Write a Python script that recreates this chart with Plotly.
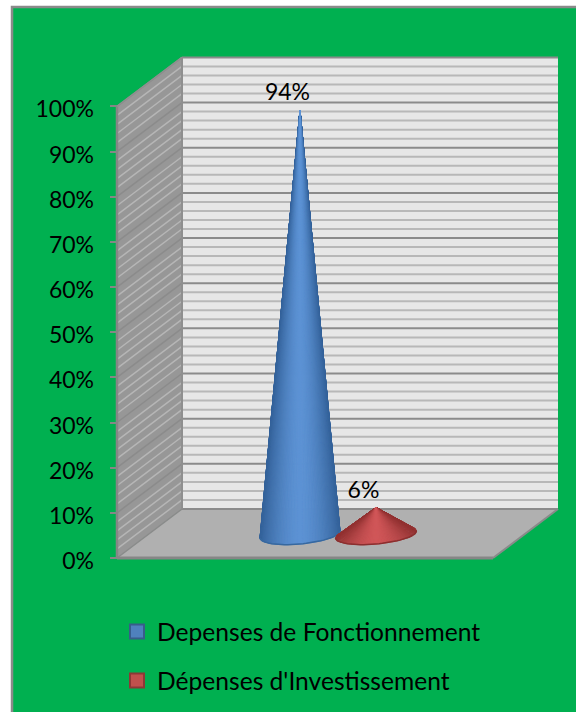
import math
import plotly.graph_objects as go

# ---- data ----
SERIES = ["Depenses de Fonctionnement", "Dépenses d'Investissement"]
SHARE = [94, 6]
LABELS = ["94%", "6%"]
TICKS = [0, 10, 20, 30, 40, 50, 60, 70, 80, 90, 100]
MINOR = [v for v in range(0, 101, 2) if v % 10]

# ---- styling / geometry ----
W, H = 576, 712
PX_PER_UNIT = 4.516
ZERO_PY = 558.0
Y_RANGE = [(ZERO_PY - H) / PX_PER_UNIT, ZERO_PY / PX_PER_UNIT]
LABEL_DROP = 3 / PX_PER_UNIT
FRONT_X, BACK_X, RIGHT_X = 117, 182, 558
DEPTH_DV = 49 / PX_PER_UNIT
DEPTH_DX = BACK_X - FRONT_X
FONT = "Lato"
GREEN = "#00b050"
CONE_X = [300, 376]
CONE_BASE_V = 5.2
HALF_W = [40, 40.5]
MINOR_AXIS = 9.5 / PX_PER_UNIT
TILT = 3.5 / PX_PER_UNIT
LABEL_DX = -12.5
LABEL_DV = 3.4
LIGHT = [(92, 146, 212), (208, 86, 88)]
DARK = [(52, 98, 154), (146, 50, 50)]
RIM = ["#37689f", "#8a2f2f"]
LEGEND_MARK = [("#4f81bd", "#385d8a"), ("#c0504d", "#8c3836")]

traces = []


def poly(xs, ys, fill, line=None, lw=0):
    traces.append(go.Scatter(
        x=list(xs) + [xs[0]], y=list(ys) + [ys[0]], mode="lines", fill="toself",
        fillcolor=fill, line=dict(color=line or fill, width=lw), hoverinfo="skip", showlegend=False))


def seg(xs, ys, color, width):
    traces.append(go.Scatter(x=xs, y=ys, mode="lines", line=dict(color=color, width=width),
                             hoverinfo="skip", showlegend=False))


top = TICKS[-1]
# back wall, side wall, floor
poly([BACK_X, RIGHT_X, RIGHT_X, BACK_X],
     [DEPTH_DV, DEPTH_DV, top + DEPTH_DV, top + DEPTH_DV], "#e7e7e7")
poly([FRONT_X, BACK_X, BACK_X, FRONT_X], [0, DEPTH_DV, top + DEPTH_DV, top], "#979797")
poly([FRONT_X, BACK_X, RIGHT_X, RIGHT_X - DEPTH_DX], [0, DEPTH_DV, DEPTH_DV, 0], "#b0b0b0")

# gridlines
for v in MINOR:
    seg([BACK_X, RIGHT_X], [v + DEPTH_DV] * 2, "#b8b8b8", 2)
    seg([FRONT_X, BACK_X], [v, v + DEPTH_DV], "#b6b6b6", 1.5)
for v in TICKS:
    seg([BACK_X, RIGHT_X], [v + DEPTH_DV] * 2, "#8b8b8b", 2)
    seg([FRONT_X, BACK_X], [v, v + DEPTH_DV], "#8b8b8b", 1.5)

# wall/floor edges
seg([BACK_X, BACK_X], [DEPTH_DV, top + DEPTH_DV], "#8f8f8f", 2)
seg([FRONT_X, FRONT_X], [0, top], "#868686", 2.5)
seg([FRONT_X, BACK_X], [top, top + DEPTH_DV], "#8f8f8f", 1.5)
seg([FRONT_X, RIGHT_X - DEPTH_DX], [0, 0], "#868686", 3)
seg([RIGHT_X - DEPTH_DX, RIGHT_X], [0, DEPTH_DV], "#8a8a8a", 2)


def mix(a, b, t):
    return "rgb(%d,%d,%d)" % tuple(round(a[i] + (b[i] - a[i]) * t) for i in range(3))


def rim_point(i, t):
    x = CONE_X[i] + HALF_W[i] * math.cos(t)
    v = CONE_BASE_V + TILT * math.cos(t) - MINOR_AXIS * math.sin(t)
    return x, v


# cones: drawn as shaded strips from each value's apex to the base rim
N = 90
T0, T1 = -0.35, math.pi + 0.35
for i, value in enumerate(SHARE):
    apex_x, apex_v = CONE_X[i], CONE_BASE_V + value
    order = sorted(range(N), key=lambda k: -abs(k + 0.5 - N / 2))
    for k in order:
        a = T0 + (T1 - T0) * k / N
        b = T0 + (T1 - T0) * (k + 1) / N
        mid = (a + b) / 2
        shade = abs(math.cos(mid)) ** 1.6
        col = mix(LIGHT[i], DARK[i], min(1, shade))
        pa, pb = rim_point(i, a), rim_point(i, b)
        poly([apex_x, pa[0], pb[0]], [apex_v, pa[1], pb[1]], col, col, 1.0)
    rim = [rim_point(i, math.pi * k / 40) for k in range(41)]
    seg([p[0] for p in rim], [p[1] for p in rim], RIM[i], 1.5)

# data labels
traces.append(go.Scatter(
    x=[CONE_X[i] + LABEL_DX for i in range(len(SHARE))],
    y=[CONE_BASE_V + SHARE[i] + LABEL_DV for i in range(len(SHARE))],
    text=LABELS, mode="text", textposition="middle center",
    textfont=dict(family=FONT, size=23, color="#000000"), hoverinfo="skip", showlegend=False))

# legend entries (empty traces, they also carry the overlaying tick-label axis)
for i, name in enumerate(SERIES):
    traces.append(go.Scatter(
        x=[None], y=[None], yaxis="y2", mode="markers", name=name, legendgroup=name,
        marker=dict(symbol="square", size=14, color=LEGEND_MARK[i][0],
                    line=dict(color=LEGEND_MARK[i][1], width=2))))

fig = go.Figure(traces)
fig.update_layout(
    width=W, height=H, autosize=False,
    margin=dict(l=0, r=0, t=0, b=0),
    paper_bgcolor="#ffffff", plot_bgcolor="rgba(0,0,0,0)",
    font=dict(family=FONT, size=23, color="#000000"),
    xaxis=dict(range=[0, W], visible=False, domain=[0, 1], fixedrange=True),
    yaxis=dict(range=Y_RANGE, domain=[0, 1], anchor="free", position=FRONT_X / W,
               tickmode="array", tickvals=TICKS, showticklabels=False,
               ticks="outside", ticklen=7, tickwidth=2, tickcolor="#868686",
               showgrid=False, zeroline=False, showline=False, fixedrange=True),
    yaxis2=dict(range=[Y_RANGE[0] + LABEL_DROP, Y_RANGE[1] + LABEL_DROP],
                domain=[0, 1], anchor="free", position=FRONT_X / W, overlaying="y",
                tickmode="array", tickvals=TICKS, ticktext=[f"{v}%" for v in TICKS],
                ticks="", ticklabelstandoff=23, tickfont=dict(family=FONT, size=23, color="#000000"),
                showgrid=False, zeroline=False, showline=False, fixedrange=True),
    legend=dict(x=117 / W, y=1 - 609 / H, xanchor="left", yanchor="top",
                bgcolor="rgba(0,0,0,0)", tracegroupgap=14, itemclick=False,
                font=dict(family=FONT, size=24.6, color="#000000")),
    shapes=[dict(type="rect", xref="paper", yref="paper", layer="below",
                 x0=12 / W, x1=1.02, y0=-0.02, y1=1 - 7 / H,
                 fillcolor=GREEN, line=dict(color="#8a8a8a", width=2.5))],
)
fig.write_html("out.html", config={"displayModeBar": False},
               post_script="document.body.style.margin='0';document.body.style.overflow='hidden';")
